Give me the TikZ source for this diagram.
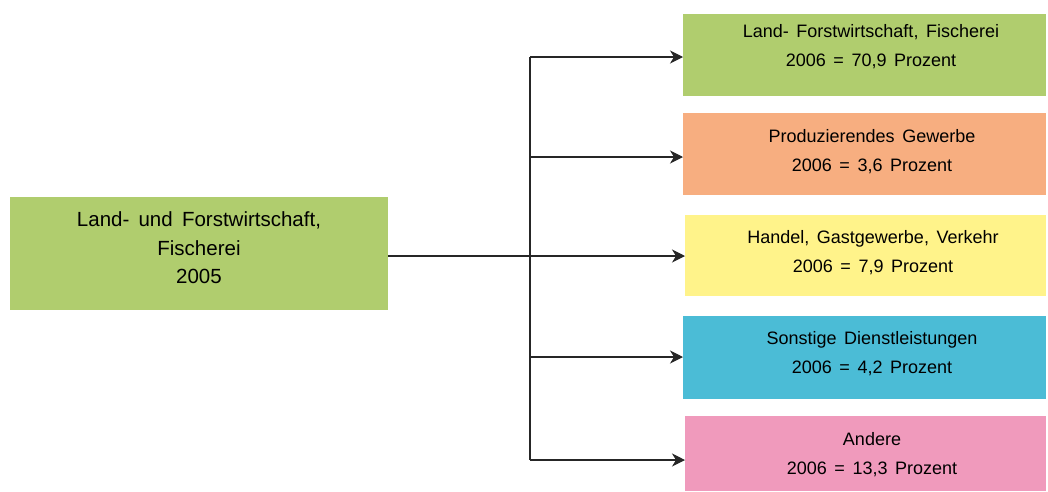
\documentclass[tikz,border=0pt]{standalone}
\usepackage{fontspec}
\setmainfont{Liberation Sans}
\usetikzlibrary{arrows.meta}
\definecolor{cgreen}{HTML}{B0CD6E}
\definecolor{corange}{HTML}{F7AE80}
\definecolor{cyellow}{HTML}{FFF38A}
\definecolor{ccyan}{HTML}{4BBCD6}
\definecolor{cpink}{HTML}{F09ABC}
\newcommand{\rfnt}{\fontsize{18}{29}\selectfont\spaceskip=0.42em\relax}
\newcommand{\lfnt}{\fontsize{20.5}{28.3}\selectfont\spaceskip=0.45em\relax}
\begin{document}
\begin{tikzpicture}[x=1pt,y=-1pt,
  boxn/.style={anchor=north west,inner sep=0pt,outer sep=0pt},
  rtxt/.style={anchor=north,inner sep=0pt,align=center,font=\rfnt},
  ltxt/.style={anchor=north,inner sep=0pt,align=center,font=\lfnt},
  conn/.style={line width=1.1pt,draw=black!85},
  arr/.style={conn,-{Stealth[length=13pt,width=13pt,inset=4pt]}}]
\useasboundingbox (0,0) rectangle (1048,491);
\node[boxn,fill=cgreen,minimum width=378pt,minimum height=113pt] (src) at (10,197) {};
\node[ltxt] (srct) at (199,206.9) {\strut Land- und Forstwirtschaft,\\\strut Fischerei\\\strut 2005};
\node[boxn,fill=cgreen,minimum width=363pt,minimum height=82pt] (b1) at (683,14) {};
\node[boxn,fill=corange,minimum width=363pt,minimum height=82pt] (b2) at (683,113) {};
\node[boxn,fill=cyellow,minimum width=361pt,minimum height=81pt] (b3) at (685,215) {};
\node[boxn,fill=ccyan,minimum width=363pt,minimum height=83pt] (b4) at (683,316) {};
\node[boxn,fill=cpink,minimum width=361pt,minimum height=75pt] (b5) at (685,416) {};
\node[rtxt] (t1) at (871,17) {\strut Land- Forstwirtschaft, Fischerei\\\strut 2006 = 70,9 Prozent};
\node[rtxt] (t2) at (872,122) {\strut Produzierendes Gewerbe\\\strut 2006 = 3,6 Prozent};
\node[rtxt] (t3) at (873,223.4) {\strut Handel, Gastgewerbe, Verkehr\\\strut 2006 = 7,9 Prozent};
\node[rtxt] (t4) at (872,324.4) {\strut Sonstige Dienstleistungen\\\strut 2006 = 4,2 Prozent};
\node[rtxt] (t5) at (872,424.7) {\strut Andere\\\strut 2006 = 13,3 Prozent};
\coordinate (j1) at (530,57);
\coordinate (j2) at (530,157);
\coordinate (j4) at (530,357);
\coordinate (j5) at (530,460);
\draw[conn] (j1) -- (j5);
\draw[arr] (src.east |- 0,256) -- (b3.west |- 0,256);
\draw[arr] (j1) -- (b1.west |- j1);
\draw[arr] (j2) -- (b2.west |- j2);
\draw[arr] (j4) -- (b4.west |- j4);
\draw[arr] (j5) -- (b5.west |- j5);
\end{tikzpicture}
\end{document}
